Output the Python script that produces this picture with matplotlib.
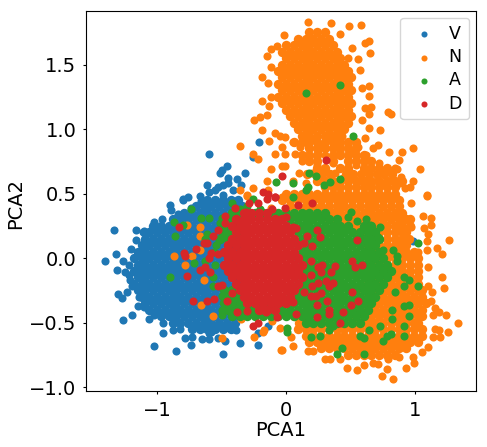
# -*- coding: utf-8 -*-
"""PCA scatter of the four beat classes, values read off the picture."""

import matplotlib
matplotlib.use("Agg")
import matplotlib.pyplot as plt

LABELS = ["V", "N", "A", "D"]
COLORS = ["#1f77b4", "#ff7f0e", "#2ca02c", "#d62728"]

# dense parts: (PCA2, [PCA1, ...]) per row
V_ROWS = [
    (0.45, [-.61, -.55, -.49, -.43, -.37]),
    (0.40, [-.70, -.64, -.58, -.52, -.46, -.40, -.34]),
    (0.35, [-.79, -.73, -.67, -.61, -.55, -.49, -.43, -.37]),
    (0.30, [-.88, -.82, -.76, -.70, -.64, -.58, -.52, -.46, -.40, -.34]),
    (0.25, [-1.03, -.97, -.91, -.85, -.79, -.73, -.67, -.61, -.55, -.49, -.43, -.37]),
    (0.20, [-1.06, -1.00, -.94, -.88, -.82, -.76, -.70, -.64, -.58, -.52, -.46, -.40, -.34]),
    (0.15, [-1.09, -1.03, -.97, -.91, -.85, -.79, -.73, -.67, -.61, -.55, -.49, -.43, -.37]),
    (0.10, [-1.12, -1.06, -1.00, -.94, -.88, -.82, -.76, -.70, -.64, -.58, -.52, -.46, -.40, -.34]),
    (0.05, [-1.15, -1.09, -1.03, -.97, -.91, -.85, -.79, -.73, -.67, -.61, -.55, -.49, -.43, -.37]),
    (0.00, [-1.18, -1.12, -1.06, -1.00, -.94, -.88, -.82, -.76, -.70, -.64, -.58, -.52, -.46, -.40, -.34]),
    (-.05, [-1.15, -1.09, -1.03, -.97, -.91, -.85, -.79, -.73, -.67, -.61, -.55, -.49, -.43, -.37]),
    (-.10, [-1.18, -1.12, -1.06, -1.00, -.94, -.88, -.82, -.76, -.70, -.64, -.58, -.52, -.46, -.40, -.34]),
    (-.15, [-1.15, -1.09, -1.03, -.97, -.91, -.85, -.79, -.73, -.67, -.61, -.55, -.49, -.43, -.37]),
    (-.20, [-1.18, -1.12, -1.06, -1.00, -.94, -.88, -.82, -.76, -.70, -.64, -.58, -.52, -.46, -.40, -.34]),
    (-.25, [-1.15, -1.09, -1.03, -.97, -.91, -.85, -.79, -.73, -.67, -.61, -.55, -.49, -.43, -.37]),
    (-.30, [-1.12, -1.06, -1.00, -.94, -.88, -.82, -.76, -.70, -.64, -.58, -.52, -.46, -.40, -.34]),
    (-.35, [-1.09, -1.03, -.97, -.91, -.85, -.79, -.73, -.67, -.61, -.55, -.49, -.43, -.37]),
    (-.40, [-1.06, -1.00, -.94, -.88, -.82, -.76, -.70, -.64, -.58, -.52, -.46, -.40, -.34]),
    (-.45, [-.97, -.91, -.85, -.79, -.73, -.67, -.61, -.55, -.49, -.43, -.37]),
    (-.50, [-.88, -.82, -.76, -.70, -.64, -.58, -.52, -.46, -.40]),
    (-.55, [-.73, -.67, -.61, -.55, -.49, -.43]),
]
V_SPARSE = [
    (-.60, .81), (-.21, .90), (-.46, .71), (-.50, .68), (-.51, .66), (-.32, .66), (-.38, .61),
    (-.45, .62), (-.45, .58), (-.61, .57), (-.53, .55), (-.49, .57), (-.60, .51), (-.55, .53),
    (-.67, .48), (-.76, .47), (-.80, .46), (-.49, .49), (-.41, .53), (-.35, .57), (-.26, .78),
    (-1.33, .22), (-1.40, -.02), (-1.32, .03), (-1.31, -.09), (-1.26, -.02), (-1.25, -.11),
    (-1.16, .22), (-1.30, -.28), (-1.27, -.31), (-1.26, -.48), (-1.19, -.44), (-1.15, -.37),
    (-1.02, -.68), (-.95, -.58), (-.85, -.72), (-.88, -.56), (-.78, -.62), (-.74, -.67),
    (-.73, -.61), (-.65, -.63), (-.60, -.63), (-.58, -.57), (-.49, -.74), (-.53, -.62),
    (-.47, -.64), (-.36, -.66), (-.39, -.56), (-.22, -.67), (-.44, -.54), (-.14, -.53),
    (-.22, -.58), (-.90, .41), (-.80, .45), (-1.02, .28), (-1.11, .20), (-.89, .37), (.98, .13),
    (-1.22, -.05), (-1.21, -.17), (-1.20, .07), (-1.19, -.22), (-1.22, -.13), (-1.16, .14),
    (-1.10, .21), (-1.14, -.30), (-1.10, -.38), (-1.02, -.44), (-.95, -.50), (-.82, -.55),
    (-.60, -.58), (-1.23, -.26), (-1.06, -.47), (-.96, .30), (-.84, .34), (-.74, .39), (-.66, .44),
]

N_ROWS = [
    (1.75, [.18, .24, .30]),
    (1.70, [.09, .15, .21, .27, .33]),
    (1.65, [.00, .06, .12, .18, .24, .30, .36]),
    (1.60, [-.03, .03, .09, .15, .21, .27, .33, .39]),
    (1.55, [.00, .06, .12, .18, .24, .30, .36, .42]),
    (1.50, [-.03, .03, .09, .15, .21, .27, .33, .39, .45]),
    (1.45, [-.06, .00, .06, .12, .18, .24, .30, .36, .42, .48]),
    (1.40, [-.03, .03, .09, .15, .21, .27, .33, .39, .45, .50]),
    (1.35, [-.06, .00, .06, .12, .18, .24, .30, .36, .42, .48]),
    (1.30, [-.03, .03, .09, .15, .21, .27, .33, .39, .45, .50]),
    (1.25, [-.06, .00, .06, .12, .18, .24, .30, .36, .42, .48]),
    (1.20, [-.03, .03, .09, .15, .21, .27, .33, .39, .45, .50]),
    (1.15, [.00, .06, .12, .18, .24, .30, .36, .42, .48]),
    (1.10, [.03, .09, .15, .21, .27, .33, .39, .45, .50]),
    (1.05, [.06, .12, .18, .24, .30, .36, .42, .48]),
    (1.00, [.09, .15, .21, .27, .33, .39, .45]),
    (0.95, [.12, .18, .24, .30, .36, .42]),
    (0.90, [.06, .12, .18, .24, .30, .36, .42, .48, .54]),
    (0.85, [.18, .24, .30, .36, .42, .48, .54]),
    (0.80, [.12, .18, .24, .36, .42, .48, .54, .60]),
    (0.75, [.18, .24, .36, .48, .54, .60, .66]),
    (0.70, [.24, .30, .42, .48, .60, .66, .72, .78]),
    (0.65, [.16, .28, .34, .46, .52, .58, .64, .70, .76, .82]),
    (0.60, [.24, .30, .36, .42, .48, .54, .60, .66, .72, .78, .84, .90]),
    (0.55, [.30, .36, .42, .48, .54, .60, .66, .72, .78, .84]),
    (0.50, [.00, .06, .12, .18, .24, .30, .36, .42, .48, .54, .60, .66, .72, .78, .84]),
    (0.45, [-.03, .03, .09, .15, .21, .27, .33, .39, .45, .51, .57, .63, .69, .75, .81, .87]),
    (0.40, [.03, .09, .15, .21, .27, .33, .39, .45, .51, .57, .63, .69, .75, .81, .87]),
    (0.35, [.30, .36, .42, .48, .54, .60, .66, .72, .78, .84, .90]),
    (0.30, [.33, .39, .45, .51, .57, .63, .69, .75, .81, .87, .93, .96]),
    (0.25, [.42, .48, .54, .60, .66, .72, .78, .84, .90, .96]),
    (0.20, [.54, .60, .66, .72, .78, .84, .90, .93]),
    (0.15, [.60, .66, .72, .78, .84, .90, .95]),
    (0.10, [.60, .66, .72, .78, .84, .90, .93]),
    (0.05, [.63, .69, .75, .81, .87, .93, .99]),
    (0.00, [.66, .72, .78, .84, .90, .96, 1.02]),
    (-.05, [.66, .72, .78, .84, .90, .96, 1.02]),
    (-.10, [.66, .72, .78, .84, .90, .96, 1.02]),
    (-.15, [.66, .72, .78, .84, .90, .96, 1.02]),
    (-.20, [.63, .69, .75, .81, .87, .93, .99, 1.02]),
    (-.25, [.60, .66, .72, .78, .84, .90, .96, 1.02, 1.05]),
    (-.30, [.57, .63, .69, .75, .81, .87, .93, .99, 1.05]),
    (-.35, [.54, .60, .66, .72, .78, .84, .90, .96, 1.02, 1.08]),
    (-.40, [.51, .57, .63, .69, .75, .81, .87, .93, .99, 1.05]),
    (-.45, [.06, .12, .48, .54, .60, .66, .72, .78, .84, .90, .96, 1.02, 1.05]),
    (-.50, [.10, .16, .22, .28, .34, .40, .46, .52, .58, .63, .69, .75, .81, .87, .93, .99, 1.02]),
    (-.55, [.09, .15, .21, .27, .33, .39, .45, .51, .57, .63, .69, .75, .81, .87, .93, .99, 1.05]),
    (-.60, [.15, .21, .27, .33, .39, .45, .51, .57, .63, .69, .75, .81, .87, .93, .99, 1.05]),
    (-.65, [.18, .24, .30, .36, .42, .48, .54, .60, .66, .72, .78, .84, .90, .96, 1.02]),
    (-.70, [.27, .33, .39, .45, .51, .57, .63, .69, .75, .81, .87, .93]),
    (-.75, [.48, .54, .60, .66, .72, .78, .84]),
]
N_SPARSE = [
    (.17, 1.83), (.35, 1.82), (.49, 1.80), (.58, 1.81), (.42, 1.74), (.64, 1.68), (.61, 1.67),
    (.65, 1.59), (.56, 1.54), (.51, 1.63), (.57, 1.46), (.48, 1.55), (-.12, 1.62), (-.07, 1.64),
    (-.02, 1.73), (-.15, 1.57), (-.12, 1.48), (-.19, 1.40), (-.14, 1.36), (.59, 1.32), (.64, 1.33),
    (.64, 1.26), (-.19, 1.22), (-.12, 1.25), (-.13, 1.18), (.61, 1.16), (.66, 1.17), (.64, 1.12),
    (.79, 1.13), (.81, 1.12), (-.25, 1.07), (-.20, 1.09), (-.15, 1.11), (-.19, .99), (.64, 1.01),
    (.73, .99), (.59, 1.07), (-.09, .97), (-.13, .91), (-.05, .95), (.05, .90), (-.01, .94),
    (-.36, .87), (-.26, .81), (-.22, .77), (-.09, .81), (-.03, .86), (-.01, .81), (.07, .81),
    (.11, .86), (.16, .89), (.22, .93), (.33, .94), (.43, .95), (.61, .93), (.71, .88), (.67, .85),
    (.80, .82), (.90, .82), (.98, .85), (.87, .76), (1.04, .69), (.98, .60), (1.09, .49), (.96, .55),
    (.92, .54), (.89, .63), (.86, .69), (-.12, .69), (-.03, .71), (-.01, .71), (-.15, .60),
    (-.26, .54), (-.36, .53), (-.30, .49), (-.14, .53),
    (.12, .75), (.18, .78), (.24, .72), (.30, .80), (.36, .74), (.42, .82), (.48, .76), (.54, .72),
    (.60, .78), (.66, .70), (.72, .74), (.78, .68), (.84, .70), (.20, .66), (.28, .64), (.38, .66),
    (.44, .62), (.52, .64), (.58, .60), (.64, .62), (.70, .60), (.76, .58), (.82, .60), (.88, .58),
    (.10, .66), (.05, .60), (.15, .58), (.36, .86), (.40, .90), (.28, .88), (.48, .88), (.56, .86),
    (.62, .80), (.50, .82), (.25, .83),
    (1.06, .33), (1.12, .31), (1.12, .26), (1.07, .23), (.97, .24), (1.10, .19), (1.09, .13),
    (1.26, .14), (1.17, .08), (1.21, .03), (1.02, .05), (1.09, .06), (1.10, -.07), (1.21, -.15),
    (1.22, -.23), (1.10, -.22), (1.13, -.26), (1.12, -.33), (1.15, -.39), (1.14, -.44), (1.18, -.42),
    (1.24, -.44), (1.33, -.50), (1.15, -.55), (1.18, -.56), (1.25, -.57), (1.14, -.61), (1.19, -.61),
    (1.10, -.69), (1.05, -.73), (.98, -.77), (.99, -.81), (.93, -.85), (.83, -.94), (.74, -.91),
    (.78, -.86), (.87, -.77), (.55, -.87), (.47, -.85), (.60, -.83), (.67, -.81), (.71, -.82),
    (.79, -.78), (.30, -.78), (.34, -.78), (.42, -.78), (.17, -.72), (.21, -.72), (.05, -.68),
    (-.03, -.71), (.04, -.61), (.97, .43), (1.09, .48),
    (-.77, .26), (-.67, .24), (-.67, .17), (-.87, .02), (-.73, .02), (-.78, -.05), (-.64, -.17),
    (-.66, -.36), (-.57, -.45), (-.50, -.62), (-.17, -.56), (-.25, -.61), (-.18, -.57), (-.04, -.71),
    (-.05, -.54), (-.11, -.49), (-.35, -.47), (-.67, .06), (-.30, .48), (-.03, .47), (-.12, .39),
    (-.22, .36),
]

A_ROWS = [
    (0.35, [-.42, -.36, -.30, -.24, -.18, -.12, -.06, .00, .06, .12, .18, .24, .30]),
    (0.30, [-.45, -.39, -.33, .03, .09, .15, .21, .27, .33, .39]),
    (0.25, [-.48, -.42, -.36, .06, .12, .18, .24, .30, .36, .42, .48, .60, .66]),
    (0.20, [-.48, -.42, -.36, .09, .15, .21, .27, .33, .39, .45, .51, .57, .63, .69]),
    (0.15, [-.51, -.45, .12, .18, .24, .30, .36, .42, .48, .54, .60, .66, .72]),
    (0.10, [.09, .15, .21, .27, .33, .39, .45, .51, .57, .63, .69]),
    (0.05, [.12, .18, .24, .30, .36, .42, .48, .54, .60, .66, .72]),
    (0.00, [.09, .15, .21, .27, .33, .39, .45, .51, .57, .63, .69, .75]),
    (-.05, [.12, .18, .24, .30, .36, .42, .48, .54, .60, .66, .72, .78]),
    (-.10, [.09, .15, .21, .27, .33, .39, .45, .51, .57, .63, .69, .75, .81]),
    (-.15, [.12, .18, .24, .30, .36, .42, .48, .54, .60, .66, .72, .78]),
    (-.20, [.09, .15, .21, .27, .33, .39, .45, .51, .57, .63, .69, .75]),
    (-.25, [-.48, -.42, -.36, .06, .12, .18, .24, .30, .36, .42, .48, .54, .60, .66, .72]),
    (-.30, [-.45, -.39, .03, .09, .15, .21, .27, .33, .39, .45, .51, .57, .63, .69]),
    (-.35, [-.48, -.42, -.36, -.30, -.24, -.18, -.12, -.06, .00, .06, .12, .18, .24, .30, .36, .42, .48, .54, .60, .66]),
    (-.40, [-.45, -.39, -.33, -.27, -.21, -.15, -.09, -.03, .03, .09, .15, .21, .27, .33, .39, .45, .51, .57, .63]),
    (-.45, [-.42, -.36, -.30, -.24, -.18, -.12, -.06, .00, .06, .12, .18, .24, .30, .36, .42, .48, .54, .60]),
    (-.50, [.15, .21, .27, .33, .39, .45, .51, .57]),
]
A_SPARSE = [
    (-.87, .28), (-.80, .26), (-.86, .17), (-.74, .38), (-.66, .31), (-.60, .31), (-.61, .19),
    (-.54, .10), (-.71, -.04), (-.90, -.15), (-.57, -.15), (-.57, -.22), (-.50, -.40), (-.50, -.44),
    (-.42, .43), (-.26, .46), (-.51, .27), (-.50, .31), (-.63, .15), (-.63, -.02), (-.50, -.29),
    (-.40, -.42), (-.48, -.33), (-.44, -.38), (-.36, -.36), (-.42, .36), (-.36, .38), (-.30, .40),
    (-.20, .38), (-.50, .20), (-.46, .16), (-.52, .14), (-.56, .05), (-.55, -.05),
    (.15, 1.28), (.42, 1.34), (.52, .95), (.18, .66), (.23, .64), (.42, .61), (.34, .59), (.29, .57),
    (-.08, .59), (.05, .58), (.17, .55), (.15, .53), (.05, .47), (1.02, .12), (1.02, -.22), (.95, -.17),
    (.91, -.15), (.91, -.22), (.86, .02), (.86, -.02), (.83, .06), (.75, .06), (.84, -.26), (.91, -.37),
    (.95, -.36), (.95, -.45), (.91, -.53), (.91, -.60), (.82, -.40), (.82, -.47), (.78, -.60),
    (.75, -.64), (.81, -.59), (.60, -.74), (.43, -.70), (.39, -.74), (.26, -.60), (.19, -.61),
    (.33, -.56), (.36, -.53), (.57, -.60), (.60, -.62), (.64, -.56), (.73, -.53), (.01, -.54),
    (.01, -.57), (.50, .36), (.48, .32), (.55, .29), (.62, .30), (.73, .24), (.65, .26), (.71, .16),
]

D_ROWS = [
    (0.35, [-.33, -.27, -.21, -.15]),
    (0.30, [-.39, -.33, -.27, -.21, -.15, -.09, -.03]),
    (0.25, [-.42, -.36, -.30, -.24, -.18, -.12, -.06, .00]),
    (0.20, [-.39, -.33, -.27, -.21, -.15, -.09, -.03, .03]),
    (0.15, [-.42, -.36, -.30, -.24, -.18, -.12, -.06, .00, .06]),
    (0.10, [-.45, -.39, -.33, -.27, -.21, -.15, -.09, -.03, .03, .09]),
    (0.05, [-.48, -.42, -.36, -.30, -.24, -.18, -.12, -.06, .00, .06]),
    (0.00, [-.45, -.39, -.33, -.27, -.21, -.15, -.09, -.03, .03, .09]),
    (-.05, [-.48, -.42, -.36, -.30, -.24, -.18, -.12, -.06, .00, .06, .12]),
    (-.10, [-.45, -.39, -.33, -.27, -.21, -.15, -.09, -.03, .03, .09]),
    (-.15, [-.42, -.36, -.30, -.24, -.18, -.12, -.06, .00, .06, .12]),
    (-.20, [-.39, -.33, -.27, -.21, -.15, -.09, -.03, .03, .09]),
    (-.25, [-.36, -.30, -.24, -.18, -.12, -.06, .00, .06]),
    (-.30, [-.33, -.27, -.21, -.15, -.09, -.03, .03]),
    (-.35, [-.30, -.24, -.18, -.12, -.06, .00]),
    (-.40, [-.21, -.15, -.09]),
]
D_SPARSE = [
    (-.83, .24), (-.79, .04), (-.78, .02), (-.70, .07), (-.77, -.14), (-.72, -.33), (-.61, -.33),
    (-.56, -.32), (-.64, .12), (-.61, .12), (-.57, .17), (-.53, .22), (-.47, .33), (-.40, .39),
    (-.29, .43), (-.22, .43), (-.15, .46), (-.09, .47), (-.31, .36), (-.11, .38), (-.47, .27),
    (-.39, .30), (-.36, .27), (-.67, -.09), (-.63, -.07), (-.59, -.11), (-.60, .00), (-.58, .04),
    (-.53, .03), (-.53, -.22), (-.50, -.21), (-.46, -.33), (-.42, -.27), (-.38, -.42), (-.30, -.41),
    (-.18, -.40), (-.14, -.40), (-.16, -.42), (-.07, -.46), (-.22, -.50), (-.26, -.53),
    (-.03, .64), (.31, .76), (-.18, .51), (-.14, .50), (-.09, .47),
    (.20, .43), (.09, .41), (-.01, .39), (.00, .32), (.05, .24), (.08, .23), (.24, .22), (.26, .16),
    (.16, .17), (.14, .12), (.20, .09), (.55, .14), (.19, -.02), (.51, -.02), (.53, -.07), (.59, -.05),
    (.38, -.06), (.28, -.05), (.25, -.07), (.35, -.11), (.27, -.11), (.19, -.13), (.36, -.19),
    (.31, -.18), (.25, -.19), (.20, -.22), (.33, -.22), (.51, -.26), (.27, -.27), (.19, -.29),
    (.23, -.29), (.14, -.26), (.32, -.33), (.56, -.33), (.50, -.36), (.24, -.36), (.33, -.40),
    (.33, -.43), (.44, -.42), (.24, -.46), (.42, -.50), (.08, -.43), (.05, -.34), (-.01, -.35),
]


def flatten_rows(rows):
    xs = [x for _, row in rows for x in row]
    ys = [y for y, row in rows for _ in row]
    return xs, ys


fig = plt.figure(figsize=(4.87, 4.47), dpi=100)
ax = fig.add_axes([86 / 487, 56 / 447, 390 / 487, 380 / 447])

groups = [(V_ROWS, V_SPARSE), (N_ROWS, N_SPARSE), (A_ROWS, A_SPARSE), (D_ROWS, D_SPARSE)]
for (rows, sparse), label, color in zip(groups, LABELS, COLORS):
    xs, ys = flatten_rows(rows)
    # dense rows a bit bigger so the cloud closes up
    ax.scatter(xs, ys, s=46, color=color, linewidths=0)
    ax.scatter([p[0] for p in sparse], [p[1] for p in sparse], s=34, color=color,
               label=label, linewidths=0)

ax.set_xlim(-1.55, 1.47)
ax.set_ylim(-1.03, 1.915)
ax.set_xticks([-1, 0, 1])
ax.set_yticks([-1.0, -0.5, 0.0, 0.5, 1.0, 1.5])
ax.tick_params(labelsize=14, length=2.5, pad=4.5)
ax.set_xlabel("PCA1", fontsize=14)
ax.set_ylabel("PCA2", fontsize=14)
ax.xaxis.set_label_coords(0.5, -0.08)
ax.yaxis.set_label_coords(-0.156, 0.493)
ax.legend(loc="upper right", fontsize=12.5, handletextpad=0.4, labelspacing=0.3,
          markerscale=0.75, borderaxespad=0.4)

fig.savefig("out.png", dpi=100)
